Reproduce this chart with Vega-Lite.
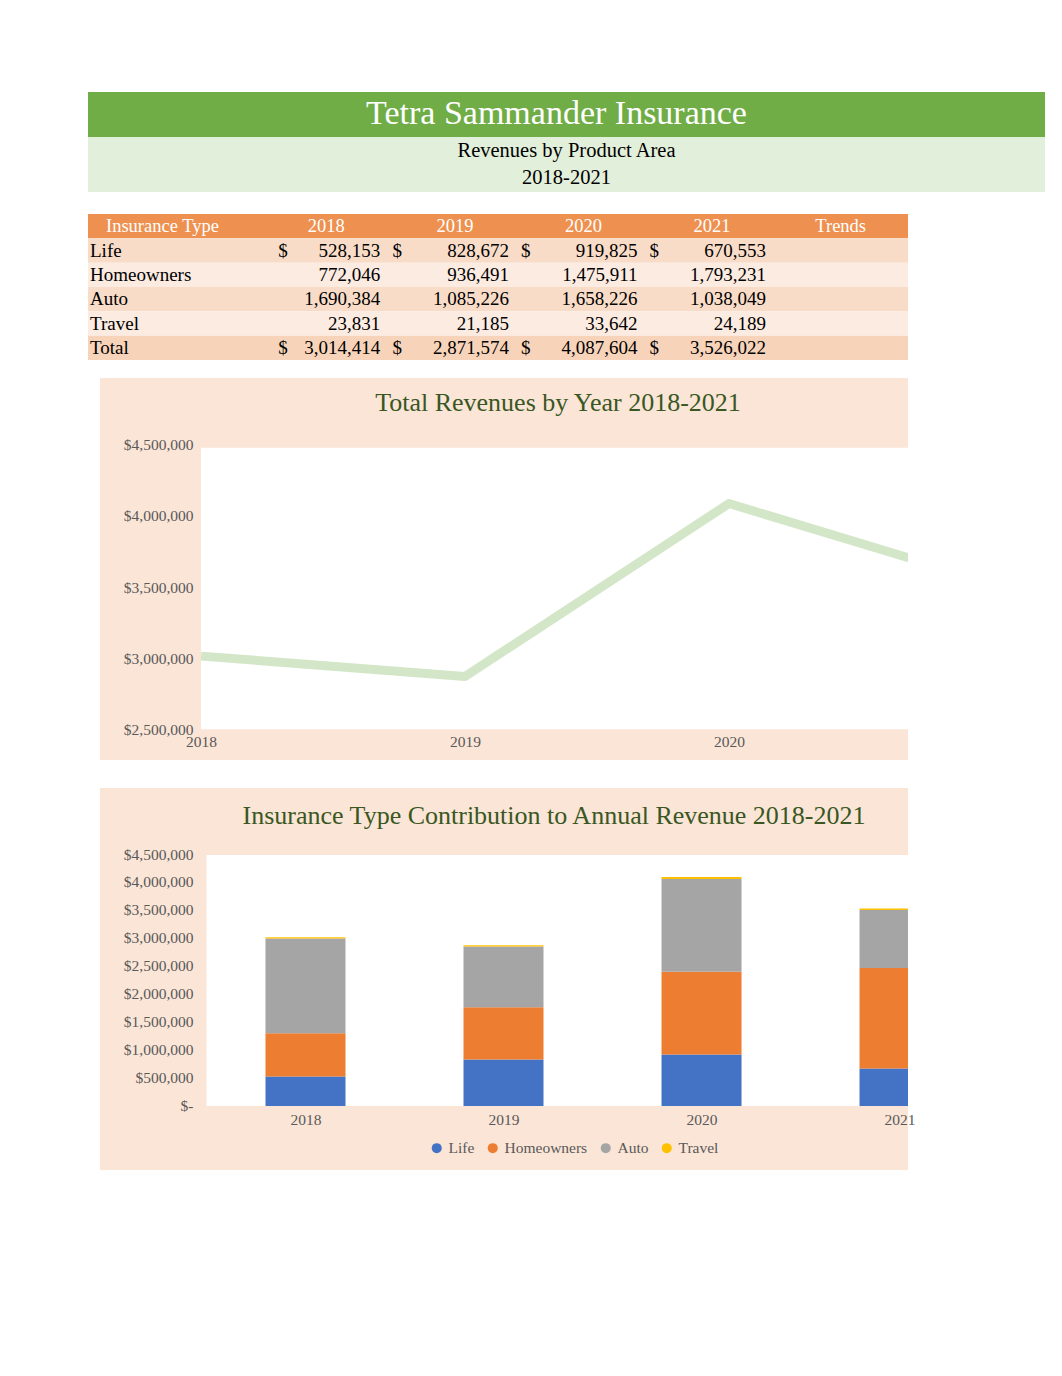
{
  "$schema": "https://vega.github.io/schema/vega-lite/v6.json",
  "background": "white",
  "padding": {"left": 88, "top": 92, "right": 0, "bottom": 0},
  "config": {
    "view": {"stroke": null},
    "font": "Liberation Serif",
    "axis": {"labelFont": "Liberation Serif", "labelFontSize": 15.5, "labelColor": "#595959", "ticks": false, "domain": false, "grid": false}
  },
  "datasets": {
    "revenue": [
      {"type": "Life", "year": 2018, "value": 528153},
      {"type": "Life", "year": 2019, "value": 828672},
      {"type": "Life", "year": 2020, "value": 919825},
      {"type": "Life", "year": 2021, "value": 670553},
      {"type": "Homeowners", "year": 2018, "value": 772046},
      {"type": "Homeowners", "year": 2019, "value": 936491},
      {"type": "Homeowners", "year": 2020, "value": 1475911},
      {"type": "Homeowners", "year": 2021, "value": 1793231},
      {"type": "Auto", "year": 2018, "value": 1690384},
      {"type": "Auto", "year": 2019, "value": 1085226},
      {"type": "Auto", "year": 2020, "value": 1658226},
      {"type": "Auto", "year": 2021, "value": 1038049},
      {"type": "Travel", "year": 2018, "value": 23831},
      {"type": "Travel", "year": 2019, "value": 21185},
      {"type": "Travel", "year": 2020, "value": 33642},
      {"type": "Travel", "year": 2021, "value": 24189},
      {"type": "Total", "year": 2018, "value": 3014414},
      {"type": "Total", "year": 2019, "value": 2871574},
      {"type": "Total", "year": 2020, "value": 4087604},
      {"type": "Total", "year": 2021, "value": 3526022}
    ],
    "rows": [
      {"type": "Header", "label": "Insurance Type"},
      {"type": "Life", "label": "Life"},
      {"type": "Homeowners", "label": "Homeowners"},
      {"type": "Auto", "label": "Auto"},
      {"type": "Travel", "label": "Travel"},
      {"type": "Total", "label": "Total"}
    ],
    "headers": [
      {"type": "Header", "year": 2018},
      {"type": "Header", "year": 2019},
      {"type": "Header", "year": 2020},
      {"type": "Header", "year": 2021},
      {"type": "Header", "year": "Trends"}
    ]
  },
  "spacing": 22,
  "resolve": {"scale": {"color": "independent"}},
  "vconcat": [
    {
      "spacing": 0,
      "bounds": "flush",
      "vconcat": [
        {
          "width": 957, "height": 45,
          "view": {"fill": "#70AD47"},
          "data": {"values": [{"t": "Tetra Sammander Insurance"}]},
          "mark": {"type": "text", "fontSize": 34, "color": "white", "font": "Liberation Serif", "dx": -10, "dy": -1},
          "encoding": {"text": {"field": "t"}}
        },
        {
          "width": 957, "height": 55,
          "view": {"fill": "#E2EFDA"},
          "data": {"values": [{"line": "Revenues by Product Area"}, {"line": "2018-2021"}]},
          "mark": {"type": "text", "fontSize": 20.5, "color": "black", "font": "Liberation Serif"},
          "encoding": {
            "y": {"field": "line", "type": "nominal", "sort": null, "axis": null, "scale": {"paddingInner": 0, "paddingOuter": 0}},
            "text": {"field": "line"}
          }
        }
      ]
    },
    {
      "spacing": 28,
      "resolve": {"scale": {"color": "independent"}},
      "vconcat": [
        {
          "spacing": 18,
          "resolve": {"scale": {"color": "independent"}},
          "vconcat": [
            {
              "spacing": 0,
              "bounds": "flush",
              "hconcat": [
                {
                  "width": 177, "height": 146,
                  "layer": [
                    {
                      "data": {"name": "rows"},
                      "mark": {"type": "bar"},
                      "encoding": {
                        "y": {"field": "type", "type": "nominal", "axis": null, "scale": {"domain": ["Header", "Life", "Homeowners", "Auto", "Travel", "Total"], "paddingInner": 0, "paddingOuter": 0}},
                        "color": {"field": "type", "type": "nominal", "legend": null, "scale": {"domain": ["Header", "Life", "Homeowners", "Auto", "Travel", "Total"], "range": ["#EE9150", "#F9DCC8", "#FCEBE0", "#F9DCC8", "#FCEBE0", "#F7D3BA"]}}
                      }
                    },
                    {
                      "data": {"name": "rows"},
                      "transform": [{"filter": "datum.type != 'Header'"}],
                      "mark": {"type": "text", "align": "left", "dx": -86.5, "fontSize": 19, "color": "black"},
                      "encoding": {
                        "y": {"field": "type", "type": "nominal", "axis": null},
                        "text": {"field": "label"}
                      }
                    },
                    {
                      "data": {"name": "rows"},
                      "transform": [{"filter": "datum.type == 'Header'"}],
                      "mark": {"type": "text", "align": "left", "dx": -70.5, "fontSize": 18.5, "color": "white"},
                      "encoding": {
                        "y": {"field": "type", "type": "nominal", "axis": null},
                        "text": {"field": "label"}
                      }
                    }
                  ]
                },
                {
                  "width": 643, "height": 146,
                  "layer": [
                    {
                      "data": {"name": "rows"},
                      "mark": {"type": "bar"},
                      "encoding": {
                        "y": {"field": "type", "type": "nominal", "axis": null, "scale": {"domain": ["Header", "Life", "Homeowners", "Auto", "Travel", "Total"], "paddingInner": 0, "paddingOuter": 0}},
                        "color": {"field": "type", "type": "nominal", "legend": null, "scale": {"domain": ["Header", "Life", "Homeowners", "Auto", "Travel", "Total"], "range": ["#EE9150", "#F9DCC8", "#FCEBE0", "#F9DCC8", "#FCEBE0", "#F7D3BA"]}}
                      }
                    },
                    {
                      "data": {"name": "headers"},
                      "mark": {"type": "text", "fontSize": 18.5, "color": "white", "dx": -3},
                      "encoding": {
                        "x": {"field": "year", "type": "ordinal", "axis": null, "scale": {"domain": [2018, 2019, 2020, 2021, "Trends"], "paddingInner": 0, "paddingOuter": 0}},
                        "y": {"field": "type", "type": "nominal", "axis": null},
                        "text": {"field": "year", "type": "nominal"}
                      }
                    },
                    {
                      "data": {"name": "revenue"},
                      "mark": {"type": "text", "fontSize": 19, "color": "black", "align": "right", "dx": 51},
                      "encoding": {
                        "x": {"field": "year", "type": "ordinal", "axis": null},
                        "y": {"field": "type", "type": "nominal", "axis": null},
                        "text": {"field": "value", "type": "quantitative", "format": ","}
                      }
                    },
                    {
                      "data": {"name": "revenue"},
                      "transform": [{"filter": {"field": "type", "oneOf": ["Life", "Total"]}}, {"filter": {"field": "year", "equal": 2018}}],
                      "mark": {"type": "text", "fontSize": 19, "color": "black", "align": "left", "dx": -51},
                      "encoding": {
                        "x": {"field": "year", "type": "ordinal", "axis": null},
                        "y": {"field": "type", "type": "nominal", "axis": null},
                        "text": {"value": "$"}
                      }
                    },
                    {
                      "data": {"name": "revenue"},
                      "transform": [{"filter": {"field": "type", "oneOf": ["Life", "Total"]}}, {"filter": {"field": "year", "oneOf": [2019, 2020, 2021]}}],
                      "mark": {"type": "text", "fontSize": 19, "color": "black", "align": "left", "dx": -65.5},
                      "encoding": {
                        "x": {"field": "year", "type": "ordinal", "axis": null},
                        "y": {"field": "type", "type": "nominal", "axis": null},
                        "text": {"value": "$"}
                      }
                    }
                  ]
                }
              ]
            },
            {
              "spacing": 0,
              "hconcat": [
                {"width": 12, "height": 382, "data": {"values": [{}]}, "mark": {"type": "point", "opacity": 0}},
                {
                  "spacing": 0,
                  "bounds": "flush",
                  "vconcat": [
                    {
                      "width": 808, "height": 64,
                      "view": {"fill": "#FBE5D6"},
                      "data": {"values": [{"t": "Total Revenues by Year 2018-2021"}]},
                      "mark": {"type": "text", "fontSize": 26, "color": "#385723", "font": "Liberation Serif", "dx": 54, "dy": -7},
                      "encoding": {"text": {"field": "t"}}
                    },
                    {
                      "width": 808, "height": 318,
                      "view": {"fill": "#FBE5D6"},
                      "layer": [
                        {
                          "data": {"values": [{}]},
                          "mark": {"type": "rect", "color": "white", "clip": true},
                          "encoding": {
                            "x": {"datum": 2018, "type": "quantitative", "scale": {"domain": [2017.6174, 2020.678], "nice": false, "zero": false},
                                  "axis": {"values": [2018, 2019, 2020], "format": "d", "offset": -31, "labelPadding": 5, "title": null, "labelFlush": false}},
                            "x2": {"datum": 2021},
                            "y": {"datum": 2500000, "type": "quantitative", "scale": {"domain": [2284000, 4520000], "nice": false, "zero": false},
                                  "axis": {"values": [2500000, 3000000, 3500000, 4000000, 4500000], "format": "$,.0f", "offset": -95, "labelPadding": 2, "title": null}},
                            "y2": {"datum": 4480000}
                          }
                        },
                        {
                          "data": {"name": "revenue"},
                          "transform": [{"filter": "datum.type == 'Total'"}],
                          "mark": {"type": "line", "color": "#D3E7C8", "strokeWidth": 9, "clip": true, "strokeJoin": "round"},
                          "encoding": {
                            "x": {"field": "year", "type": "quantitative", "scale": {"domain": [2017.6174, 2020.678], "nice": false, "zero": false},
                                  "axis": {"values": [2018, 2019, 2020], "format": "d", "offset": -31, "labelPadding": 5, "title": null, "labelFlush": false}},
                            "y": {"field": "value", "type": "quantitative", "scale": {"domain": [2284000, 4520000], "nice": false, "zero": false},
                                  "axis": {"values": [2500000, 3000000, 3500000, 4000000, 4500000], "format": "$,.0f", "offset": -95, "labelPadding": 2, "title": null}}
                          }
                        }
                      ]
                    }
                  ]
                }
              ]
            }
          ]
        },
        {
          "spacing": 0,
          "resolve": {"scale": {"color": "independent"}},
          "hconcat": [
            {"width": 12, "height": 382, "data": {"values": [{}]}, "mark": {"type": "point", "opacity": 0}},
            {
              "spacing": 0,
              "bounds": "flush",
              "vconcat": [
                {
                  "width": 808, "height": 66,
                  "view": {"fill": "#FBE5D6"},
                  "data": {"values": [{"t": "Insurance Type Contribution to Annual Revenue 2018-2021"}]},
                  "mark": {"type": "text", "fontSize": 26, "color": "#385723", "font": "Liberation Serif", "dx": 50, "dy": -5},
                  "encoding": {"text": {"field": "t"}}
                },
                {
                  "width": 808, "height": 316,
                  "view": {"fill": "#FBE5D6"},
                  "layer": [
                    {
                      "data": {"values": [{}]},
                      "mark": {"type": "rect", "color": "white", "clip": true},
                      "encoding": {
                        "x": {"datum": 2017.5, "type": "quantitative", "scale": {"domain": [2016.9875, 2021.0175], "nice": false, "zero": false},
                              "axis": {"values": [2018, 2019, 2020, 2021], "format": "d", "offset": -64, "labelPadding": 6, "title": null, "labelFlush": false}},
                        "x2": {"datum": 2022},
                        "y": {"datum": 0, "type": "quantitative", "scale": {"domain": [-1142900, 4500000], "nice": false, "zero": false},
                              "axis": {"values": [0, 500000, 1000000, 1500000, 2000000, 2500000, 3000000, 3500000, 4000000, 4500000], "labelExpr": "datum.value == 0 ? '$-  ' : format(datum.value, '$,.0f')", "offset": -95, "labelPadding": 2, "title": null}},
                        "y2": {"datum": 4480000}
                      }
                    },
                    {
                      "data": {"name": "revenue"},
                      "transform": [
                        {"filter": "datum.type != 'Total'"},
                        {"calculate": "indexof(['Life', 'Homeowners', 'Auto', 'Travel'], datum.type)", "as": "stackRank"}
                      ],
                      "mark": {"type": "bar", "width": 80, "clip": true},
                      "encoding": {
                        "x": {"field": "year", "type": "quantitative", "scale": {"domain": [2016.9875, 2021.0175], "nice": false, "zero": false},
                              "axis": {"values": [2018, 2019, 2020, 2021], "format": "d", "offset": -64, "labelPadding": 6, "title": null, "labelFlush": false}},
                        "y": {"field": "value", "type": "quantitative", "stack": "zero", "scale": {"domain": [-1142900, 4500000], "nice": false, "zero": false},
                              "axis": {"values": [0, 500000, 1000000, 1500000, 2000000, 2500000, 3000000, 3500000, 4000000, 4500000], "labelExpr": "datum.value == 0 ? '$-  ' : format(datum.value, '$,.0f')", "offset": -95, "labelPadding": 2, "title": null}},
                        "order": {"field": "stackRank", "type": "quantitative", "sort": "ascending"},
                        "color": {"field": "type", "type": "nominal", "sort": ["Life", "Homeowners", "Auto", "Travel"],
                                  "scale": {"domain": ["Life", "Homeowners", "Auto", "Travel"], "range": ["#4472C4", "#ED7D31", "#A5A5A5", "#FFC000"]},
                                  "legend": {"orient": "none", "legendX": 329, "legendY": 352, "direction": "horizontal", "title": null, "symbolType": "circle", "symbolSize": 100, "symbolStrokeWidth": 0, "labelFont": "Liberation Serif", "labelFontSize": 15.5, "labelColor": "#595959", "columnPadding": 10, "labelOffset": 4}}
                      }
                    }
                  ]
                }
              ]
            }
          ]
        }
      ]
    }
  ]
}
